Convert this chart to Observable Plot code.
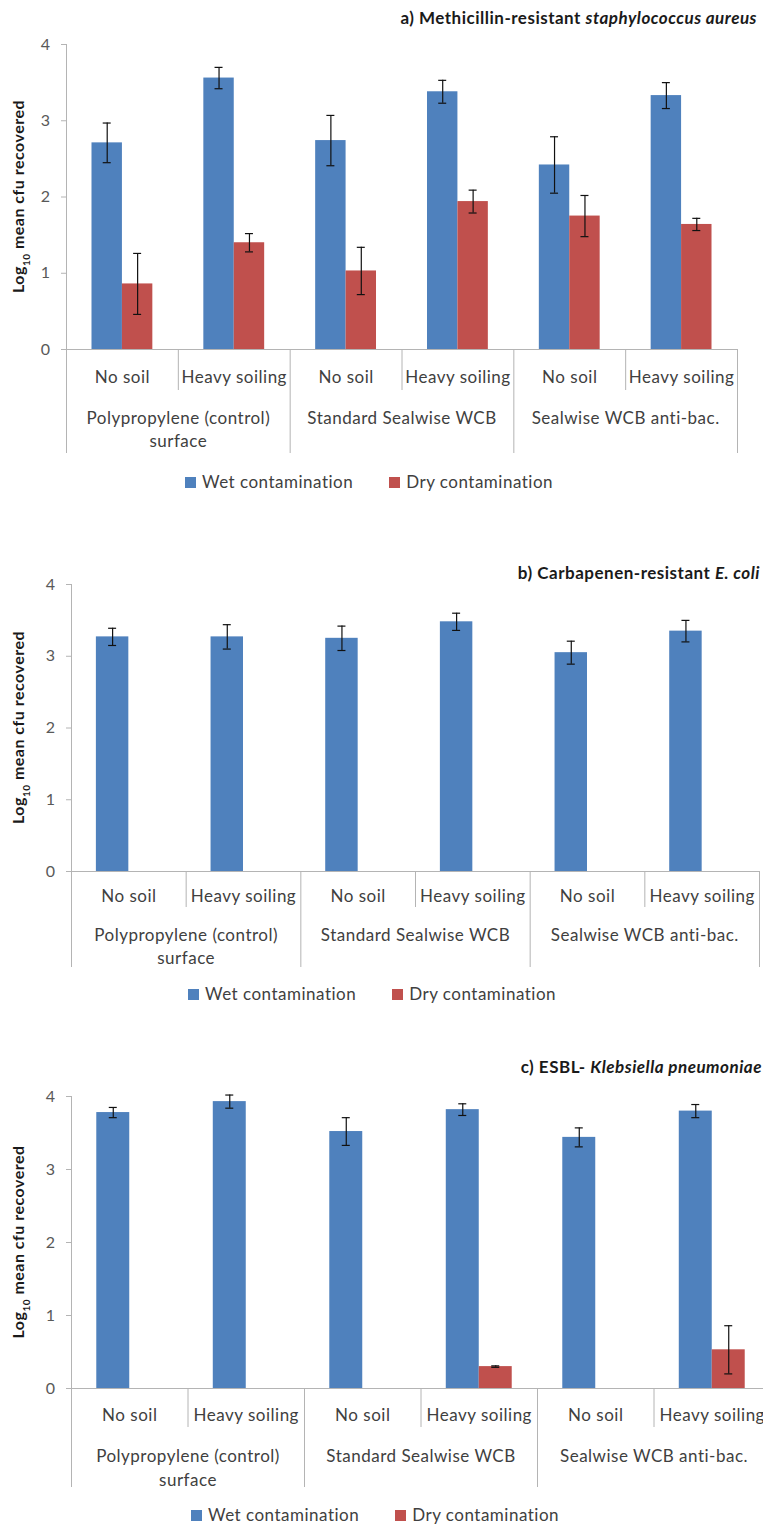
<!DOCTYPE html>
<html>
<head>
<meta charset="utf-8">
<script src="https://cdn.jsdelivr.net/npm/d3@7"></script>
<script src="https://cdn.jsdelivr.net/npm/@observablehq/plot@0.6"></script>
<style>
  html, body { margin: 0; padding: 0; background: #fff; overflow: hidden; }
  #page { position: relative; width: 763px; height: 1526px; font-family: Lato, "Open Sans", sans-serif; }
  .title { position: absolute; white-space: nowrap; font-weight: 700; font-size: 17px; letter-spacing: 0.5px; line-height: 20px; color: #1a1a1a; }
  .legend { position: absolute; white-space: nowrap; font-size: 17px; letter-spacing: 0.5px; line-height: 20px; color: #404040; display: flex; align-items: center; }
  .legend .sw { display: inline-block; width: 11px; height: 11px; margin-right: 6px; }
  .legend .item { display: flex; align-items: center; margin-right: 36px; }
  .panel { position: absolute; left: 0; }
</style>
</head>
<body>
<div id="page"></div>
<script>
// Categories along the x axis: soil condition within each surface type
const soils = ["No soil", "Heavy soiling"];
const surfaces = ["Polypropylene (control)\nsurface", "Standard Sealwise WCB", "Sealwise WCB anti-bac."];
const series = ["Wet contamination", "Dry contamination"];
const yTicks = [0, 1, 2, 3, 4];

// a) MRSA — log10 mean cfu recovered (± error)
const mrsaWet = [2.71, 3.56, 2.74, 3.38, 2.42, 3.33];
const mrsaWetErr = [0.26, 0.14, 0.33, 0.15, 0.37, 0.17];
const mrsaDry = [0.86, 1.40, 1.03, 1.94, 1.75, 1.64];
const mrsaDryErr = [0.40, 0.12, 0.31, 0.15, 0.27, 0.08];

// b) Carbapenem-resistant E. coli
const ecoliWet = [3.27, 3.27, 3.25, 3.48, 3.05, 3.35];
const ecoliWetErr = [0.12, 0.17, 0.17, 0.12, 0.16, 0.15];
const ecoliDry = [0, 0, 0, 0, 0, 0];
const ecoliDryErr = [0, 0, 0, 0, 0, 0];

// c) ESBL Klebsiella pneumoniae
const kpWet = [3.78, 3.93, 3.52, 3.82, 3.44, 3.80];
const kpWetErr = [0.07, 0.09, 0.19, 0.08, 0.13, 0.09];
const kpDry = [0, 0, 0, 0.30, 0, 0.53];
const kpDryErr = [0, 0, 0, 0.01, 0, 0.33];

const palette = ["#4F81BD", "#C0504D"];
const axisGrey = "#b4b4b4";
const textGrey = "#404040";

const categories = surfaces.flatMap((surface, g) =>
  soils.map((soil, k) => ({i: 2 * g + k, g, soil, surface})));
const groups = surfaces.map((surface, g) => ({g, surface}));

function rowsOf(wet, wetErr, dry, dryErr) {
  return categories.flatMap(c => [
    {i: c.i, series: series[0], value: wet[c.i], err: wetErr[c.i]},
    {i: c.i, series: series[1], value: dry[c.i], err: dryErr[c.i]}
  ]);
}

const panels = [
  {
    title: [["a) Methicillin-resistant ", false], ["staphylococcus aureus", true]],
    rows: rowsOf(mrsaWet, mrsaWetErr, mrsaDry, mrsaDryErr),
    top: 30, marginTop: 14, plotH: 305, marginBottom: 110, marginLeft: 66, marginRight: 26,
    bar: 0.272, titleTop: 8, titleRight: 6, legendTop: 472, legendLeft: 185,
    catDy: 28, groupDy: 58, lineH: 23, shortSep: 41, longSep: 104
  },
  {
    title: [["b) Carbapenen-resistant ", false], ["E. coli", true]],
    rows: rowsOf(ecoliWet, ecoliWetErr, ecoliDry, ecoliDryErr),
    top: 570, marginTop: 14, plotH: 287, marginBottom: 110, marginLeft: 71, marginRight: 4,
    bar: 0.283, titleTop: 563, titleRight: 3, legendTop: 984, legendLeft: 188,
    catDy: 25, groupDy: 53, lineH: 23, shortSep: 36, longSep: 96
  },
  {
    title: [["c) ESBL- ", false], ["Klebsiella pneumoniae", true]],
    rows: rowsOf(kpWet, kpWetErr, kpDry, kpDryErr),
    top: 1082, marginTop: 14, plotH: 292, marginBottom: 105, marginLeft: 71, marginRight: -7,
    bar: 0.283, titleTop: 1057, titleRight: 1, legendTop: 1505, legendLeft: 191,
    catDy: 27, groupDy: 56, lineH: 24, shortSep: 39, longSep: 99
  }
];

const page = document.getElementById("page");

for (const p of panels) {
  const w = p.bar;
  const center = d => d.i + 0.5 + (d.series === series[0] ? -w / 2 : w / 2);
  const shown = p.rows.filter(d => d.value > 0);
  const withErr = shown.filter(d => d.err > 0);

  const chart = Plot.plot({
    width: 763,
    height: p.marginTop + p.plotH + p.marginBottom,
    marginTop: p.marginTop,
    marginBottom: p.marginBottom,
    marginLeft: p.marginLeft,
    marginRight: p.marginRight,
    style: {fontFamily: "Lato, 'Open Sans', sans-serif", background: "white", overflow: "visible", letterSpacing: "0.5px"},
    x: {type: "linear", domain: [0, 6], axis: null},
    y: {domain: [0, 4], axis: null},
    color: {domain: series, range: palette},
    marks: [
      // category separators below the axis
      Plot.ruleX([1, 3, 5], {x: d => d, y1: 0, y2: 0, insetBottom: -p.shortSep, stroke: axisGrey}),
      Plot.ruleX([0, 2, 4, 6], {x: d => d, y1: 0, y2: 0, insetBottom: -p.longSep, stroke: axisGrey}),
      // bars
      Plot.rect(shown, {
        x1: d => d.i + 0.5 - (d.series === series[0] ? w : 0),
        x2: d => d.i + 0.5 + (d.series === series[1] ? w : 0),
        y1: 0, y2: "value", fill: "series"
      }),
      // axis lines
      Plot.ruleX([0], {x: d => d, y1: 0, y2: 4, stroke: axisGrey}),
      Plot.ruleY([0], {y: d => d, x1: 0, x2: 6, stroke: axisGrey}),
      Plot.axisY(yTicks, {
        label: null, tickSize: 5, tickPadding: 11, stroke: axisGrey, fill: "#595959",
        fontSize: 16, tickFormat: d3.format("d")
      }),
      // error bars with caps
      Plot.ruleX(withErr, {x: center, y1: d => d.value - d.err, y2: d => d.value + d.err, stroke: "#111", strokeWidth: 1.2}),
      Plot.ruleY(withErr, {y: d => d.value + d.err, x1: center, x2: center, insetLeft: -4, insetRight: -4, stroke: "#111", strokeWidth: 1.2}),
      Plot.ruleY(withErr, {y: d => d.value - d.err, x1: center, x2: center, insetLeft: -4, insetRight: -4, stroke: "#111", strokeWidth: 1.2}),
      // hierarchical category labels
      Plot.text(categories, {x: d => d.i + 0.5, y: 0, text: "soil", dy: p.catDy, fontSize: 17, fill: textGrey}),
      Plot.text(groups, {
        x: d => 2 * d.g + 1, y: 0, text: "surface", dy: p.groupDy, lineAnchor: "top",
        lineHeight: p.lineH / 17, fontSize: 17, fill: textGrey
      })
    ]
  });

  // y-axis title with subscript
  const svg = d3.select(chart);
  const cy = p.marginTop + p.plotH / 2;
  const label = svg.append("text")
    .attr("transform", `translate(18,${cy}) rotate(-90)`)
    .attr("text-anchor", "middle")
    .attr("dy", "0.35em")
    .attr("font-weight", 700)
    .attr("font-size", 16)
    .attr("fill", "#1a1a1a");
  label.append("tspan").text("Log");
  label.append("tspan").attr("font-size", 10).attr("baseline-shift", "sub").text("10");
  label.append("tspan").text(" mean cfu recovered");

  const box = document.createElement("div");
  box.className = "panel";
  box.style.top = p.top + "px";
  box.appendChild(chart);
  page.appendChild(box);

  // panel title
  const t = document.createElement("div");
  t.className = "title";
  t.style.top = p.titleTop + "px";
  t.style.right = p.titleRight + "px";
  for (const [txt, italic] of p.title) {
    const s = document.createElement("span");
    s.textContent = txt;
    if (italic) s.style.fontStyle = "italic";
    t.appendChild(s);
  }
  page.appendChild(t);

  // legend
  const lg = document.createElement("div");
  lg.className = "legend";
  lg.style.top = p.legendTop + "px";
  lg.style.left = p.legendLeft + "px";
  series.forEach((name, k) => {
    const item = document.createElement("span");
    item.className = "item";
    const sw = document.createElement("span");
    sw.className = "sw";
    sw.style.background = palette[k];
    item.appendChild(sw);
    item.appendChild(document.createTextNode(name));
    lg.appendChild(item);
  });
  page.appendChild(lg);
}
</script>
</body>
</html>
